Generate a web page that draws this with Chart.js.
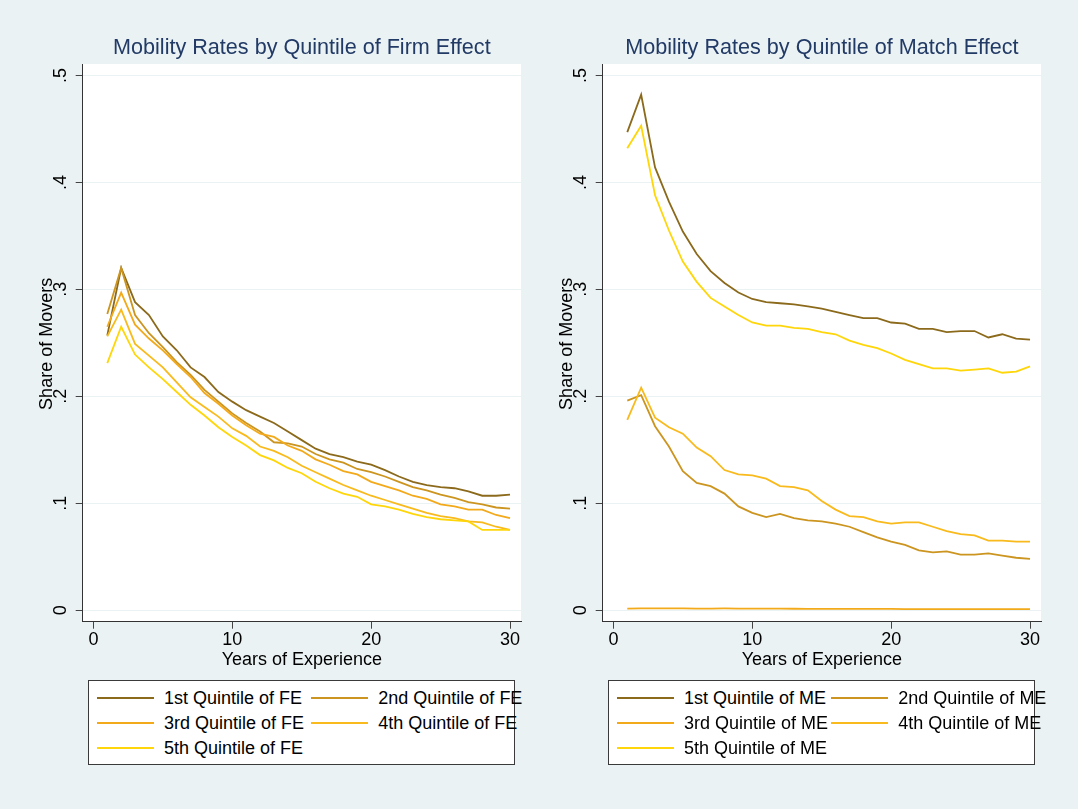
<!DOCTYPE html>
<html>
<head>
<meta charset="utf-8">
<script src="https://cdn.jsdelivr.net/npm/chart.js@4.4.1/dist/chart.umd.min.js"></script>
<style>
  body { margin: 0; background: #eaf2f3; font-family: "Liberation Sans", Arial, Helvetica, sans-serif; }
  #page { position: relative; width: 1078px; height: 809px; overflow: hidden; }
  canvas { position: absolute; top: 0; }
  .legend { position: absolute; top: 680px; width: 425px; height: 83px; background: #fff; border: 1px solid #3a3a3a; }
  .legend .item { position: absolute; height: 22px; line-height: 22px; white-space: nowrap; font-size: 18px; color: #000; }
  .legend .key { position: absolute; left: 0; top: 10px; width: 57px; height: 2px; }
  .legend .txt { position: absolute; left: 67px; top: 0; }
</style>
</head>
<body>
<div id="page">
  <canvas id="feChart" width="539" height="680" style="left:0"></canvas>
  <canvas id="meChart" width="539" height="680" style="left:520px"></canvas>
  <div id="feLegend" class="legend" style="left:88px"></div>
  <div id="meLegend" class="legend" style="left:608px"></div>
</div>
<script>
const years = [1, 2, 3, 4, 5, 6, 7, 8, 9, 10, 11, 12, 13, 14, 15, 16, 17, 18, 19, 20, 21, 22, 23, 24, 25, 26, 27, 28, 29, 30];
const yTicks = [0, .1, .2, .3, .4, .5];
const xTicks = [0, 10, 20, 30];

const quintileColors = ['#8c6a1c', '#cc9520', '#f2a91a', '#f8ba1c', '#ffd60a'];

// mobility by firm-effect quintile
const fe1 = [0.257, 0.320, 0.288, 0.276, 0.256, 0.243, 0.227, 0.218, 0.204, 0.195, 0.187, 0.181, 0.175, 0.167, 0.159, 0.151, 0.146, 0.143, 0.139, 0.136, 0.131, 0.125, 0.120, 0.117, 0.115, 0.114, 0.111, 0.107, 0.107, 0.108];
const fe2 = [0.277, 0.320, 0.276, 0.259, 0.246, 0.232, 0.220, 0.206, 0.195, 0.184, 0.175, 0.167, 0.157, 0.156, 0.153, 0.146, 0.141, 0.138, 0.132, 0.129, 0.125, 0.120, 0.115, 0.112, 0.108, 0.105, 0.101, 0.099, 0.096, 0.095];
const fe3 = [0.265, 0.297, 0.267, 0.254, 0.243, 0.230, 0.218, 0.203, 0.193, 0.182, 0.173, 0.165, 0.162, 0.154, 0.149, 0.141, 0.136, 0.130, 0.127, 0.120, 0.116, 0.112, 0.107, 0.104, 0.099, 0.097, 0.094, 0.094, 0.089, 0.086];
const fe4 = [0.256, 0.281, 0.249, 0.238, 0.227, 0.213, 0.199, 0.190, 0.181, 0.170, 0.163, 0.153, 0.149, 0.143, 0.135, 0.129, 0.123, 0.117, 0.112, 0.107, 0.103, 0.099, 0.095, 0.091, 0.088, 0.086, 0.083, 0.082, 0.078, 0.075];
const fe5 = [0.231, 0.265, 0.239, 0.227, 0.216, 0.204, 0.192, 0.182, 0.171, 0.162, 0.154, 0.145, 0.140, 0.133, 0.128, 0.120, 0.114, 0.109, 0.106, 0.099, 0.097, 0.094, 0.090, 0.087, 0.085, 0.084, 0.083, 0.075, 0.075, 0.075];

// mobility by match-effect quintile
const me1 = [0.447, 0.482, 0.414, 0.382, 0.354, 0.333, 0.317, 0.306, 0.297, 0.291, 0.288, 0.287, 0.286, 0.284, 0.282, 0.279, 0.276, 0.273, 0.273, 0.269, 0.268, 0.263, 0.263, 0.260, 0.261, 0.261, 0.255, 0.258, 0.254, 0.253];
const me2 = [0.196, 0.201, 0.172, 0.153, 0.130, 0.119, 0.116, 0.109, 0.097, 0.091, 0.087, 0.090, 0.086, 0.084, 0.083, 0.081, 0.078, 0.073, 0.068, 0.064, 0.061, 0.056, 0.054, 0.055, 0.052, 0.052, 0.053, 0.051, 0.049, 0.048];
const me3 = [0.0015, 0.0016, 0.0016, 0.0016, 0.0016, 0.0015, 0.0015, 0.0016, 0.0015, 0.0014, 0.0014, 0.0014, 0.0013, 0.0012, 0.0012, 0.0012, 0.0012, 0.0011, 0.0011, 0.0011, 0.0010, 0.0010, 0.0010, 0.0010, 0.0010, 0.0010, 0.0009, 0.0009, 0.0009, 0.0009];
const me4 = [0.178, 0.208, 0.180, 0.171, 0.165, 0.152, 0.144, 0.131, 0.127, 0.126, 0.123, 0.116, 0.115, 0.112, 0.102, 0.094, 0.088, 0.087, 0.083, 0.081, 0.082, 0.082, 0.078, 0.074, 0.071, 0.070, 0.065, 0.065, 0.064, 0.064];
const me5 = [0.432, 0.453, 0.388, 0.355, 0.326, 0.307, 0.292, 0.284, 0.276, 0.269, 0.266, 0.266, 0.264, 0.263, 0.260, 0.258, 0.252, 0.248, 0.245, 0.240, 0.234, 0.230, 0.226, 0.226, 0.224, 0.225, 0.226, 0.222, 0.223, 0.228];

const ordinals = ['1st', '2nd', '3rd', '4th', '5th'];
const FONT = '"Liberation Sans", Arial, Helvetica, sans-serif';

function stataLabel(v) {
  return v === 0 ? '0' : String(v).replace(/^0\./, '.');
}

// white plot region, rotated y tick labels and the y title (Stata puts it over the labels)
const stataPlot = {
  id: 'stataPlot',
  beforeDraw(chart) {
    const { ctx, chartArea: a } = chart;
    ctx.save();
    ctx.fillStyle = '#fff';
    ctx.fillRect(a.left, a.top, a.right - a.left, a.bottom - a.top);
    ctx.restore();
  },
  afterDraw(chart) {
    const { ctx, chartArea: a } = chart;
    const y = chart.scales.y;
    ctx.save();
    ctx.fillStyle = '#000';
    ctx.font = '18px ' + FONT;
    ctx.textAlign = 'center';
    ctx.textBaseline = 'middle';
    y.ticks.forEach(t => {
      ctx.save();
      ctx.translate(a.left - 22, y.getPixelForValue(t.value));
      ctx.rotate(-Math.PI / 2);
      ctx.fillText(stataLabel(t.value), 0, 0);
      ctx.restore();
    });
    ctx.translate(a.left - 36, (a.top + a.bottom) / 2 + 1);
    ctx.rotate(-Math.PI / 2);
    ctx.fillText('Share of Movers', 0, 0);
    ctx.restore();
  }
};

function makeChart(id, legendId, title, tag, series) {
  const datasets = series.map((vals, i) => ({
    label: ordinals[i] + ' Quintile of ' + tag,
    data: years.map((x, j) => ({ x: x, y: vals[j] })),
    borderColor: quintileColors[i],
    backgroundColor: quintileColors[i],
    borderWidth: 1.8,
    pointRadius: 0,
    tension: 0,
    order: series.length - i
  }));

  const chart = new Chart(document.getElementById(id), {
    type: 'line',
    data: { datasets },
    options: {
      responsive: false,
      animation: false,
      devicePixelRatio: 1,
      layout: { padding: { left: 0, right: 18, top: 0, bottom: 0 } },
      plugins: {
        legend: { display: false },
        tooltip: { enabled: false },
        title: {
          display: true,
          text: title,
          fullSize: false,
          color: '#223a66',
          font: { family: FONT, size: 21.6, weight: 'normal' },
          padding: { top: 35, bottom: 3.1 }
        }
      },
      scales: {
        x: {
          type: 'linear',
          min: -0.77,
          max: 30.79,
          afterBuildTicks: s => { s.ticks = xTicks.map(v => ({ value: v })); },
          afterFit: s => { s.height = 58.3; },
          ticks: { color: '#000', font: { family: FONT, size: 18 }, padding: 1, maxRotation: 0 },
          grid: { drawOnChartArea: false, tickColor: '#444', tickLength: 7 },
          border: { color: '#333', width: 1 },
          title: { display: true, text: 'Years of Experience', color: '#000', font: { family: FONT, size: 18 }, padding: { top: 0, bottom: 9 } }
        },
        y: {
          min: -0.0108,
          max: 0.5107,
          afterBuildTicks: s => { s.ticks = yTicks.map(v => ({ value: v })); },
          afterFit: s => { s.width = 82.7; },
          ticks: { color: 'rgba(0,0,0,0)', font: { family: FONT, size: 18 } },
          grid: { color: '#eaf2f3', lineWidth: 1, tickColor: '#444', tickLength: 7 },
          border: { color: '#333', width: 1 }
        }
      }
    },
    plugins: [stataPlot]
  });

  // boxed legend, two columns
  const box = document.getElementById(legendId);
  chart.data.datasets.forEach((ds, i) => {
    const item = document.createElement('div');
    item.className = 'item';
    item.style.left = (8 + (i % 2) * 214.3) + 'px';
    item.style.top = (6 + Math.floor(i / 2) * 25) + 'px';
    const key = document.createElement('span');
    key.className = 'key';
    key.style.background = ds.borderColor;
    const txt = document.createElement('span');
    txt.className = 'txt';
    txt.textContent = ds.label;
    item.appendChild(key);
    item.appendChild(txt);
    box.appendChild(item);
  });
  return chart;
}

makeChart('feChart', 'feLegend', 'Mobility Rates by Quintile of Firm Effect', 'FE', [fe1, fe2, fe3, fe4, fe5]);
makeChart('meChart', 'meLegend', 'Mobility Rates by Quintile of Match Effect', 'ME', [me1, me2, me3, me4, me5]);
</script>
</body>
</html>
